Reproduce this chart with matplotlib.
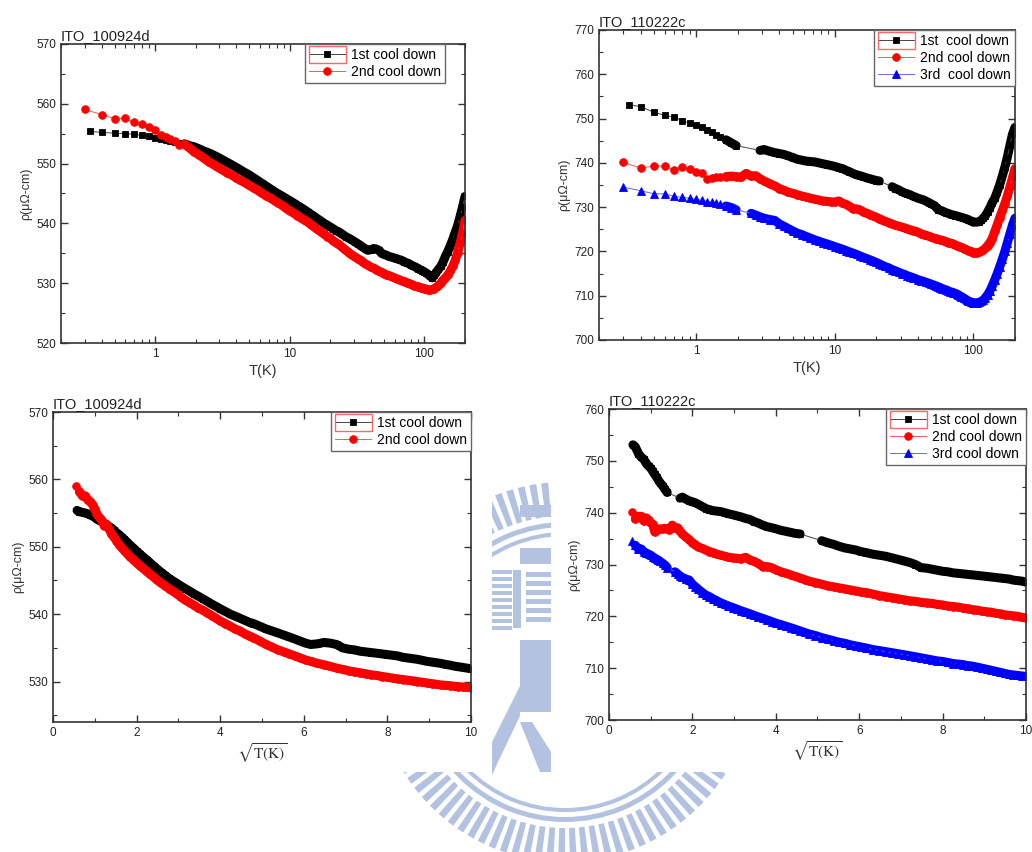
import numpy as np
import matplotlib
matplotlib.use("Agg")
import matplotlib.pyplot as plt
from matplotlib.ticker import MultipleLocator, FixedLocator, FixedFormatter, LogLocator, NullFormatter
from matplotlib.patches import Rectangle, Wedge, Polygon, PathPatch
from matplotlib.path import Path
from matplotlib.transforms import Affine2D

plt.rcParams['font.family'] = ['Liberation Sans', 'DejaVu Sans']
plt.rcParams['mathtext.fontset'] = 'stix'

nan = np.nan

# ============================================
# Data (T in K, rho in micro-ohm cm)
# ============================================

T = [0.3, 0.33, 0.4, 0.5, 0.6, 0.7, 0.8, 0.9, 1.0,
     1.1, 1.2, 1.3, 1.4, 1.5, 1.65, 1.8, 1.95,
     2.1, 2.3, 2.5, 2.7, 2.9, 3.1,
     3.4, 3.7, 4.0, 4.3, 4.6, 5.0, 5.4, 5.8, 6.2,
     6.7, 7.2, 7.7, 8.2, 8.8, 9.4, 10,
     10.7, 11.4, 12.1, 12.8, 13.6, 14.4, 15.2, 16,
     17, 18, 19, 20, 21, 22, 23,
     24.5, 26, 27.5, 29, 30.5, 32, 33.5, 35, 36.5, 38,
     40, 42, 44, 46, 48, 50, 52, 54, 56, 58,
     60, 62, 64, 66, 68, 70, 72, 74, 76, 78,
     80, 82, 84, 86, 88, 90, 92, 94, 96, 98, 100,
     103, 106, 110, 114, 118, 122, 127, 132, 137,
     143, 149, 155, 162, 169, 176, 184, 192, 200]

# ITO_100924d
rho_a_1st = [nan, 555.4, 555.2, 555.1, 555.0, 554.9, 554.7, 554.55, 554.35,
             554.1, 553.95, 553.8, 553.65, 553.5, 553.3, 553.0, 552.8,
             552.5, 552.1, 551.8, 551.45, 551.1, 550.75,
             550.25, 549.8, 549.35, 548.95, 548.55, 548.1, 547.6, 547.15, 546.7,
             546.2, 545.75, 545.3, 544.95, 544.55, 544.15, 543.8,
             543.4, 543.0, 542.65, 542.3, 541.9, 541.5, 541.15, 540.8,
             540.4, 540.0, 539.7, 539.4, 539.1, 538.8, 538.6,
             538.2, 537.8, 537.5, 537.2, 536.9, 536.6, 536.3, 536.0, 535.7, 535.5,
             535.6, 535.8, 535.7, 535.5, 535.0, 534.8, 534.7, 534.5, 534.4, 534.3,
             534.2, 534.1, 534.0, 533.9, 533.8, 533.6, 533.5, 533.4, 533.3, 533.15,
             533.0, 532.9, 532.8, 532.7, 532.55, 532.45, 532.3, 532.2, 532.1, 532.0, 531.9,
             531.7, 531.5, 531.2, 530.9, 531.3, 531.8, 532.3, 532.8, 533.5,
             534.5, 535.3, 536.2, 537.3, 538.5, 539.6, 541.2, 542.8, 544.5]

rho_a_2nd = [559.05, nan, 558.2, 557.5, 557.55, 556.9, 556.7, 556.2, 555.6,
             554.8, 554.45, 554.1, 553.75, 553.1, 553.25, 552.6, 551.95,
             551.5, 550.9, 550.3, 549.85, 549.45, 549.05,
             548.5, 548.1, 547.6, 547.2, 546.85, 546.35, 545.9, 545.5, 545.05,
             544.6, 544.2, 543.8, 543.4, 543.0, 542.5, 542.1,
             541.7, 541.3, 540.9, 540.6, 540.2, 539.8, 539.4, 539.0,
             538.6, 538.2, 537.8, 537.5, 537.1, 536.8, 536.5,
             536.0, 535.5, 535.1, 534.7, 534.4, 534.1, 533.8, 533.5, 533.2, 533.0,
             532.7, 532.5, 532.25, 532.0, 531.8, 531.6, 531.45, 531.3, 531.15, 531.0,
             530.9, 530.75, 530.65, 530.5, 530.4, 530.3, 530.2, 530.1, 530.0, 529.9,
             529.8, 529.7, 529.6, 529.5, 529.45, 529.4, 529.3, 529.25, 529.2, 529.15, 529.1,
             529.0, 528.9, 528.9, 528.95, 529.1, 529.3, 529.6, 530.0, 530.5,
             530.9, 531.4, 532.0, 532.8, 533.8, 535.1, 536.7, 538.4, 540.5]

# ITO_110222c
rho_b_1st = [nan, 753.1, 752.7, 751.4, 750.7, 750.3, 749.5, 749.0, 748.6,
             748.0, 747.4, 746.9, 746.3, 745.8, 745.2, 744.5, 743.9,
             nan, nan, nan, nan, 742.8, 743.0,
             742.6, 742.3, 742.1, 741.9, 741.6, 741.2, 740.8, 740.6, 740.4,
             740.3, 740.2, 740.0, 739.8, 739.6, 739.4, 739.2,
             738.9, 738.7, 738.3, 738.0, 737.6, 737.3, 737.1, 736.9,
             736.6, 736.4, 736.2, 736.0, 735.9, nan, nan,
             nan, 734.6, 734.2, 733.9, 733.5, 733.2, 733.0, 732.8, 732.5, 732.3,
             732.0, 731.8, 731.6, 731.3, 731.0, 730.7, 730.4, 730.0, 729.4, 729.3,
             729.1, 728.9, 728.7, 728.6, 728.4, 728.3, 728.2, 728.1, 728.0, 727.9,
             727.8, 727.7, 727.6, 727.5, 727.4, 727.3, 727.2, 727.0, 726.9, 726.8, 726.6,
             726.6, 726.6, 726.7, 727.0, 727.5, 728.0, 728.9, 729.9, 731.0,
             732.0, 733.5, 735.0, 737.0, 739.0, 741.2, 744.0, 746.5, 748.0]

rho_b_2nd = [740.1, nan, 738.8, 739.3, 739.3, 738.4, 739.0, 738.6, 738.0,
             737.8, 736.3, 736.6, 736.8, 736.9, 736.9, 737.0, 736.9,
             736.7, 737.6, 737.0, 737.1, 736.4, 735.9,
             735.3, 734.8, 734.2, 733.8, 733.4, 733.1, 732.8, 732.5, 732.3,
             732.0, 731.8, 731.6, 731.4, 731.3, 731.2, 731.1,
             731.4, 730.9, 730.6, 730.2, 729.6, 729.6, 729.4, 729.0,
             728.6, 728.3, 728.0, 727.7, 727.4, 727.1, 726.8,
             726.5, 726.2, 725.9, 725.7, 725.5, 725.3, 725.1, 724.9, 724.7, 724.6,
             724.3, 724.0, 723.8, 723.6, 723.4, 723.2, 723.0, 722.9, 722.7, 722.6,
             722.5, 722.3, 722.2, 722.0, 721.9, 721.8, 721.6, 721.5, 721.3, 721.2,
             721.0, 720.9, 720.8, 720.6, 720.5, 720.3, 720.2, 720.1, 720.0, 719.8, 719.7,
             719.7, 719.7, 719.8, 720.0, 720.3, 720.7, 721.3, 722.0, 722.9,
             724.5, 726.0, 727.6, 729.2, 730.8, 732.5, 734.6, 736.7, 738.7]

rho_b_3rd = [734.5, nan, 733.7, 733.0, 733.0, 732.4, 732.2, 732.0, 731.8,
             731.5, 731.25, 731.05, 730.85, 730.6, 730.25, 729.9, 729.4,
             nan, nan, 728.6, 728.2, 727.8, 727.5,
             727.2, 727.0, 726.2, 725.7, 725.2, 724.6, 724.1, 723.8, 723.4,
             723.0, 722.6, 722.3, 722.0, 721.7, 721.4, 721.1,
             720.8, 720.5, 720.2, 719.9, 719.6, 719.3, 719.0, 718.7,
             718.4, 718.1, 717.8, 717.5, 717.2, 716.9, 716.6,
             716.3, 715.9, 715.6, 715.3, 715.0, 714.8, 714.5, 714.3, 714.1, 713.9,
             713.6, 713.4, 713.2, 713.0, 712.8, 712.6, 712.4, 712.2, 712.0, 711.8,
             711.6, 711.4, 711.3, 711.1, 710.9, 710.8, 710.7, 710.5, 710.4, 710.2,
             710.0, 709.8, 709.6, 709.4, 709.2, 709.0, 708.8, 708.7, 708.6, 708.5, 708.4,
             708.4, 708.4, 708.5, 708.7, 709.0, 709.5, 710.2, 711.1, 712.2,
             713.6, 715.0, 716.5, 718.2, 720.0, 721.9, 724.0, 726.0, 727.5]

labels_a = ["1st cool down", "2nd cool down"]
labels_b_log = ["1st  cool down", "2nd cool down", "3rd  cool down"]
labels_b_sqrt = ["1st cool down", "2nd cool down", "3rd cool down"]

# ============================================
# Styles
# ============================================

STYLES = [
    dict(color="black", marker="s", ms=5.0, lc="#444444"),
    dict(color="red", marker="o", ms=5.5, lc="#ff5555"),
    dict(color="blue", marker="^", ms=5.5, lc="#6666ff"),
]


def draw_series(ax, x, y, st, label, band_from):
    x = np.asarray(x, dtype=float)
    y = np.asarray(y, dtype=float)
    ok = ~np.isnan(y)
    # dense stretch: symbols pile up into a solid band
    yb = np.where(x >= band_from, y, np.nan)
    ax.plot(x, yb, color=st["color"], linewidth=6.5,
            solid_capstyle="round", solid_joinstyle="round")
    ax.plot(x[ok], y[ok], color=st["lc"], linewidth=0.7,
            marker=st["marker"], markersize=st["ms"],
            markerfacecolor=st["color"], markeredgecolor=st["color"],
            markeredgewidth=0.6, label=label)


def style_axes(ax):
    for sp in ax.spines.values():
        sp.set_linewidth(1.2)
        sp.set_color("#333333")
    ax.tick_params(which="both", direction="in", top=True, right=True,
                   labelsize=8.5, colors="#333333", labelcolor="#222222")
    ax.tick_params(which="major", length=5, width=1)
    ax.tick_params(which="minor", length=3, width=0.8)
    ax.set_ylabel("ρ(μΩ-cm)", fontsize=9, color="#333333", labelpad=3)


def add_legend(ax, right):
    leg = ax.legend(loc="upper right", bbox_to_anchor=(right, 1.0),
                    borderaxespad=0, fontsize=10, handlelength=2.6,
                    handletextpad=0.4, labelspacing=0.2, borderpad=0.3,
                    fancybox=False, framealpha=1, edgecolor="#666666")
    leg.get_frame().set_linewidth(1.0)
    return leg


fig = plt.figure(figsize=(10.32, 8.52), dpi=100)

ax1 = fig.add_axes([0.0591, 0.5974, 0.3915, 0.3510])
ax2 = fig.add_axes([0.5804, 0.6010, 0.4031, 0.3638])
ax3 = fig.add_axes([0.0514, 0.1526, 0.4050, 0.3638])
ax4 = fig.add_axes([0.5901, 0.1549, 0.4041, 0.3650])

sqrtT = np.sqrt(np.asarray(T))

# top: log T
for ax, rhos, labels in [(ax1, [rho_a_1st, rho_a_2nd], labels_a),
                         (ax2, [rho_b_1st, rho_b_2nd, rho_b_3rd], labels_b_log)]:
    for r, st, lab in zip(rhos, STYLES, labels):
        draw_series(ax, T, r, st, lab, band_from=1.6)
    ax.set_xscale("log")
    ax.set_xlim(0.2, 200)
    ax.xaxis.set_major_locator(FixedLocator([1, 10, 100]))
    ax.xaxis.set_major_formatter(FixedFormatter(["1", "10", "100"]))
    ax.xaxis.set_minor_locator(LogLocator(base=10, subs=np.arange(2, 10)))
    ax.xaxis.set_minor_formatter(NullFormatter())
    ax.set_xlabel("T(K)", fontsize=10.5, color="#333333", labelpad=3)
    style_axes(ax)

# bottom: sqrt T
for ax, rhos, labels in [(ax3, [rho_a_1st, rho_a_2nd], labels_a),
                         (ax4, [rho_b_1st, rho_b_2nd, rho_b_3rd], labels_b_sqrt)]:
    for r, st, lab in zip(rhos, STYLES, labels):
        draw_series(ax, sqrtT, r, st, lab, band_from=0)
    ax.set_xlim(0, 10)
    ax.xaxis.set_major_locator(MultipleLocator(2))
    ax.xaxis.set_minor_locator(MultipleLocator(1))
    ax.set_xlabel(r"$\sqrt{\mathrm{T(K)}}$", fontsize=11, color="#333333", labelpad=2)
    style_axes(ax)

ax1.set_ylim(520, 570)
ax2.set_ylim(700, 770)
ax3.set_ylim(524, 570)
ax4.set_ylim(700, 760)
for ax in (ax1, ax2, ax3, ax4):
    ax.yaxis.set_major_locator(MultipleLocator(10))
    ax.yaxis.set_minor_locator(MultipleLocator(5))

for ax, name in [(ax1, "ITO_100924d"), (ax2, "ITO_110222c"),
                 (ax3, "ITO_100924d"), (ax4, "ITO_110222c")]:
    ax.set_title(name, loc="left", fontsize=10.5, color="#222222", pad=3)

legs = [add_legend(ax1, 0.95), add_legend(ax2, 1.0),
        add_legend(ax3, 1.0), add_legend(ax4, 1.0)]

# red outline around the first legend handle (as in the original export)
fig.canvas.draw()
renderer = fig.canvas.get_renderer()
W, H = fig.bbox.width, fig.bbox.height
for leg in legs:
    fb = leg.get_frame().get_window_extent(renderer)
    tb = leg.get_texts()[0].get_window_extent(renderer)
    x0, x1 = fb.x0 + 4, tb.x0 - 5
    y0, y1 = tb.y0 - 1, tb.y1 + 2
    fig.add_artist(Rectangle((x0 / W, y0 / H), (x1 - x0) / W, (y1 - y0) / H,
                             transform=fig.transFigure, fill=False,
                             edgecolor="#ff6666", linewidth=1.0, zorder=10))

# ============================================
# Faint university seal behind the panels
# ============================================

px = Affine2D().scale(1 / W, -1 / H).translate(0, 1) + fig.transFigure
visible = Path.make_compound_path(
    Path([(492, 460), (551, 460), (551, 780), (492, 780), (492, 460)], closed=True),
    Path([(0, 772), (1032, 772), (1032, 852), (0, 852), (0, 772)], closed=True))
clip = PathPatch(visible, transform=px)

WM = "#b3c2e0"
cx, cy = 565, 672
seal = []
for a in np.arange(0, 360, 3.6):
    seal.append(Wedge((cx, cy), 190, a, a + 2.1, width=34))
seal.append(Wedge((cx, cy), 150, 0, 360, width=5))
seal.append(Wedge((cx, cy), 140, 0, 360, width=4))
for yy in range(570, 628, 7):
    seal.append(Rectangle((480, yy), 32, 4))
seal.append(Rectangle((513, 570), 8, 58))
for yy in range(572, 620, 9):
    seal.append(Rectangle((526, yy), 25, 5))
seal.append(Rectangle((520, 505), 31, 12))
seal.append(Rectangle((520, 548), 31, 16))
seal.append(Rectangle((520, 640), 31, 72))
seal.append(Polygon([(492, 742), (520, 686), (520, 716), (498, 762), (492, 775)]))
seal.append(Polygon([(520, 722), (532, 722), (551, 752), (551, 772), (540, 772)]))
for p in seal:
    p.set_transform(px)
    p.set_facecolor(WM)
    p.set_edgecolor("none")
    p.set_zorder(-5)
    fig.add_artist(p)
    p.set_clip_path(clip)

fig.savefig("out.png", dpi=100)
